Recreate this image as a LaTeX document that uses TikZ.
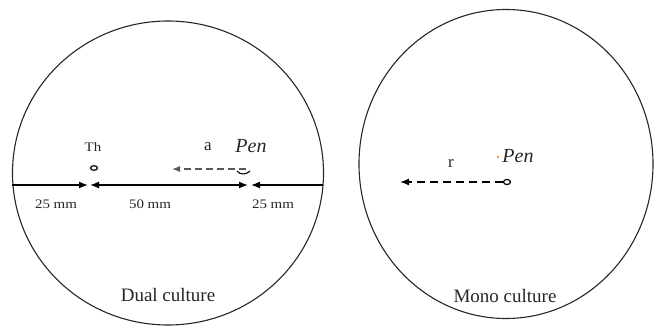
\documentclass[tikz,border=0pt]{standalone}
\usepackage{fontspec}
\setmainfont{Liberation Serif}
\usetikzlibrary{arrows.meta}
\begin{document}
\begin{tikzpicture}[x=1pt,y=-1pt,
  dish/.style={draw=black!85,line width=1.1pt},
  meas/.style={line width=1.3pt},
  lab/.style={inner sep=0pt,text=black!85},
  small/.style={lab,font=\fontsize{13}{13}\selectfont,xscale=1.15,transform shape},
  title/.style={lab,font=\fontsize{19}{19}\selectfont},
  pen/.style={lab,font=\fontsize{20}{20}\selectfont\itshape}]
\useasboundingbox (0,0) rectangle (656,329);
% dishes
\draw[dish] (168,173) ellipse [x radius=155.5pt, y radius=152pt];
\draw[dish] (506,164) ellipse [x radius=147pt, y radius=154.5pt];
% dual culture measurement line
\coordinate (L1) at (12,185);
\coordinate (T1) at (88,185);
\coordinate (T2) at (90,185);
\coordinate (P1) at (248,185);
\coordinate (P2) at (251,185);
\coordinate (R1) at (323,185);
\draw[meas,-{Latex[length=9pt,width=7pt]}] (L1) -- (T1);
\draw[meas,{Latex[length=9pt,width=7pt]}-{Latex[length=9pt,width=7pt]}] (T2) -- (P1);
\draw[meas,-{Latex[length=9pt,width=7pt]}] (R1) -- (P2);
% Th colony
\node[small] (th) at (93,147) {Th};
\draw[line width=1.2pt] (94,168) ellipse [x radius=3.5pt, y radius=2.3pt];
% Pen colony (dual)
\node[lab,font=\fontsize{17}{17}\selectfont] (a) at (208,147) {a};
\node[pen] (pen1) at (251,146) {Pen};
\coordinate (pa1) at (246,169);
\coordinate (pa2) at (172,169);
\draw[black!65,line width=1.1pt,dash pattern=on 7pt off 4pt,-{Latex[length=8pt,width=6pt]}] (pa1) -- (pa2);
\draw[line width=1.1pt] (237,171) .. controls (240,175) and (246,175) .. (250,171);
% distance labels
\node[small] (d1) at (56,204) {25 mm};
\node[small] (d2) at (150,204) {50 mm};
\node[small] (d3) at (273,204) {25 mm};
\node[title] (dual) at (168,295) {Dual culture};
% mono culture
\node[lab,font=\fontsize{17}{17}\selectfont] (r) at (451,163) {r};
\fill[orange!90!red] (498,157) circle [radius=1.2pt];
\node[pen] (pen2) at (518,156) {Pen};
\coordinate (m1) at (503,182);
\coordinate (m2) at (400,182);
\draw[line width=1.3pt,dash pattern=on 8pt off 5pt,-{Latex[length=9pt,width=7pt]}] (m1) -- (m2);
\draw[line width=1.2pt] (507,182) ellipse [x radius=3.5pt, y radius=2.5pt];
\node[title] (mono) at (505,296) {Mono culture};
\end{tikzpicture}
\end{document}
